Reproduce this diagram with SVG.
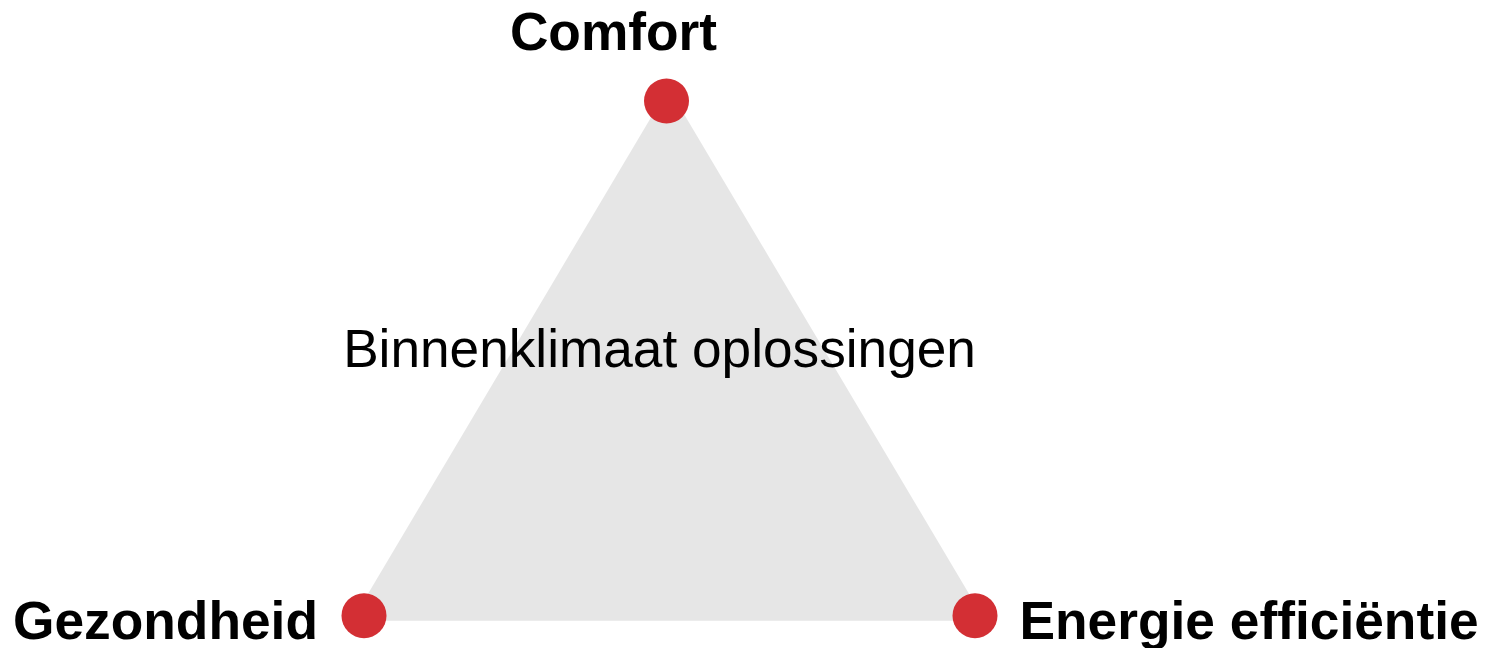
<svg xmlns="http://www.w3.org/2000/svg" width="1496" height="648" viewBox="0 0 1496 648">
<style>
.lbl{font-family:"Liberation Sans",Arial,sans-serif;font-size:53.3px;font-weight:bold;fill:#000}
.mid{font-family:"Liberation Sans",Arial,sans-serif;font-size:53.2px;fill:#000}
.dot{fill:#d32f34}
</style>
<rect width="1496" height="648" fill="#fff"/>
<g id="triangle">
<polygon points="668.5,88 352,620.7 985,620.7" fill="#e6e6e6"/>
<text class="mid" x="659.5" y="367" text-anchor="middle">Binnenklimaat oplossingen</text>
</g>
<g id="connectors"></g>
<g id="node-comfort">
<circle class="dot" cx="666.5" cy="101" r="22.5"/>
<text class="lbl" x="613.5" y="50" text-anchor="middle">Comfort</text>
</g>
<g id="node-gezondheid">
<circle class="dot" cx="364" cy="615.7" r="22.5"/>
<text class="lbl" x="13" y="638.5">Gezondheid</text>
</g>
<g id="node-energie">
<circle class="dot" cx="975" cy="615.7" r="22.5"/>
<text class="lbl" x="1019.5" y="638.5">Energie efficiëntie</text>
</g>
</svg>
